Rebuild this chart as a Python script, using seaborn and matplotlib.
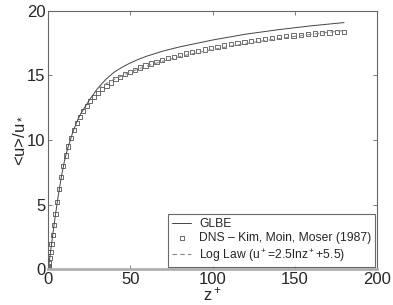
import numpy as np
import pandas as pd
import seaborn as sns
import matplotlib
matplotlib.use("Agg")
import matplotlib.pyplot as plt

# GLBE model profile
glbe_z = [0, 1, 2, 3, 4, 5, 6, 8, 10, 12, 15, 18, 20, 25, 30, 35, 40, 45, 50, 55, 60,
          70, 80, 100, 120, 140, 160, 180]
glbe_u = [0, 1.0, 1.99, 2.95, 3.9, 4.8, 5.65, 7.2, 8.5, 9.45, 10.65, 11.6, 12.1, 13.1,
          14.0, 14.7, 15.25, 15.65, 15.98, 16.26, 16.5, 16.9, 17.22, 17.75, 18.2, 18.55,
          18.85, 19.1]

# DNS - Kim, Moin, Moser (1987)
dns_z = [0, 0.054, 0.217, 0.488, 0.867, 1.354, 1.948, 2.65, 3.459, 4.374, 5.394, 6.52,
         7.751, 9.085, 10.52, 12.06, 13.70, 15.44, 17.28, 19.22, 21.25, 23.37, 25.58,
         27.92, 30.33, 32.83, 35.43, 38.11, 40.87, 43.71, 46.62, 49.61, 52.72, 55.89,
         59.11, 62.42, 65.81, 69.26, 72.77, 76.36, 80.0, 83.7, 87.46, 91.28, 95.15,
         99.07, 103.0, 107.1, 111.1, 115.2, 119.4, 123.5, 127.7, 132.0, 136.3, 140.6,
         144.9, 149.2, 153.6, 158.0, 162.4, 166.8, 171.2, 175.6, 180.0]
dns_u = [0, 0.05, 0.22, 0.49, 0.86, 1.35, 1.94, 2.63, 3.42, 4.29, 5.22, 6.18,
         7.12, 8.0, 8.8, 9.5, 10.15, 10.75, 11.3, 11.8, 12.25, 12.65, 13.0,
         13.35, 13.65, 13.95, 14.2, 14.45, 14.7, 14.9, 15.1, 15.3, 15.45, 15.62,
         15.78, 15.93, 16.07, 16.2, 16.33, 16.46, 16.58, 16.7, 16.81, 16.92, 17.02,
         17.12, 17.22, 17.32, 17.41, 17.5, 17.59, 17.67, 17.75, 17.83, 17.9, 17.97,
         18.04, 18.1, 18.16, 18.21, 18.26, 18.3, 18.33, 18.36, 18.38]

# log law u+ = 2.5 ln z+ + 5.5 (values listed)
log_z = [30, 40, 50, 60, 70, 80, 90, 100, 110, 120, 130, 140, 150, 160, 170, 180]
log_u = [14.0, 14.7, 15.28, 15.74, 16.12, 16.46, 16.75, 17.01, 17.25, 17.47, 17.67,
         17.85, 18.03, 18.19, 18.34, 18.48]

sns.set_theme(style="ticks")
plt.rcParams['font.family'] = ['Liberation Sans', 'DejaVu Sans']
plt.rcParams['mathtext.default'] = 'regular'

fig = plt.figure(figsize=(3.93, 3.05), dpi=100)
ax = fig.add_axes([0.123, 0.118, 0.836, 0.846])

glbe = pd.DataFrame({'z': glbe_z, 'u': glbe_u})
dns = pd.DataFrame({'z': dns_z, 'u': dns_u})
loglaw = pd.DataFrame({'z': log_z, 'u': log_u})

sns.lineplot(data=glbe, x='z', y='u', ax=ax, color='#444444', lw=0.7, label='GLBE')
sns.scatterplot(data=dns, x='z', y='u', ax=ax, marker='s', s=9, facecolor='none',
                edgecolor='#555555', linewidth=0.6,
                label='DNS \u2013 Kim, Moin, Moser (1987)')
sns.lineplot(data=loglaw, x='z', y='u', ax=ax, color='#888888', lw=0.8,
             linestyle=(0, (4, 3)), label='Log Law (u$^+$=2.5lnz$^+$+5.5)')

ax.set_xlim(0, 200)
ax.set_ylim(0, 20)
ax.set_xticks([0, 50, 100, 150, 200])
ax.set_yticks([0, 5, 10, 15, 20])
ax.tick_params(direction='in', length=3, width=0.6, color='#666666',
               labelsize=12, top=True, right=True, pad=2)
for side in ['left', 'right', 'top']:
    ax.spines[side].set_color('#666666')
    ax.spines[side].set_linewidth(0.8)
ax.spines['bottom'].set_color('#b0b0b0')
ax.spines['bottom'].set_linewidth(2)

ax.set_xlabel('z$^+$', fontsize=12, labelpad=-1)
ax.set_ylabel('<u>/u$_*$', fontsize=12, labelpad=1)

leg = ax.legend(loc='lower right', bbox_to_anchor=(1.0, 0.0), fontsize=8.7,
                frameon=True, fancybox=False, borderaxespad=0.15,
                handlelength=1.6, handletextpad=0.65, labelspacing=0.2,
                borderpad=0.3)
leg.get_frame().set_edgecolor('#444444')
leg.get_frame().set_linewidth(0.8)

fig.savefig('out.png', dpi=100)
